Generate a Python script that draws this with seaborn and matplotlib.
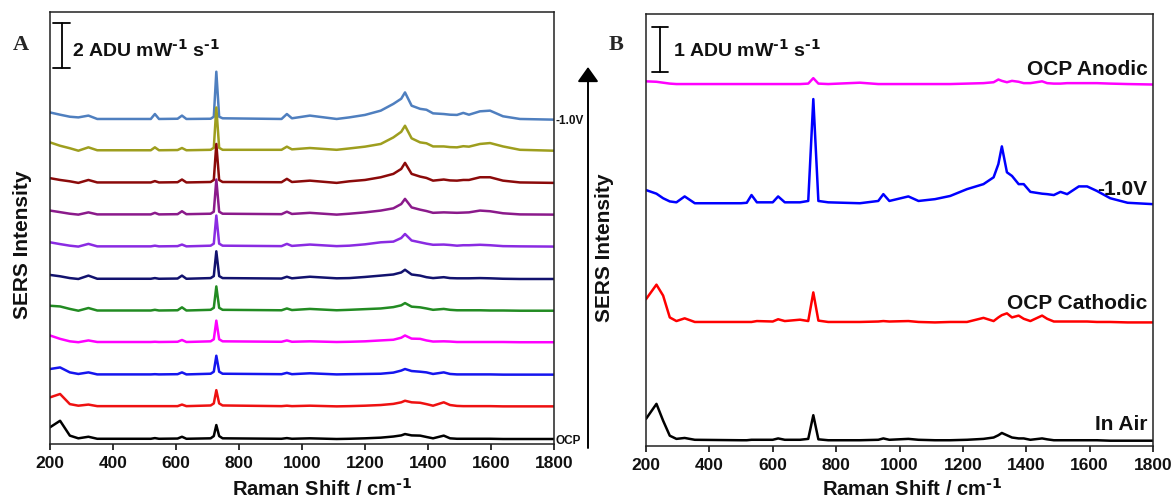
import numpy as np
import pandas as pd
import matplotlib
matplotlib.use("Agg")
import matplotlib.pyplot as plt
import seaborn as sns

# ---------------- data (Raman shift in cm^-1, intensity in ADU mW^-1 s^-1) ----------------
wavenumber_A = [200, 232, 263, 290, 322, 350, 520, 533, 546, 605, 619, 633, 710, 720, 728, 737, 748,
                935, 952, 968, 1025, 1110, 1150, 1200, 1250, 1290, 1315, 1327, 1348, 1375, 1395, 1416,
                1450, 1470, 1492, 1512, 1530, 1565, 1597, 1638, 1692, 1800]

potentials_A = ["-1.0V", "s2", "s3", "s4", "s5", "s6", "s7", "s8", "s9", "s10", "OCP"]

spec_A1 = [0.32,0.22,0.13,0.10,0.18,0.03, 0.03,0.25,0.03, 0.04,0.18,0.03, 0.04,0.13,2.13,0.13,0.06, 0.03,0.25,0.06, 0.18, 0.03,0.10,0.21,0.40, 0.70,0.93,1.21,0.62,0.48,0.44,0.28, 0.25,0.22,0.21,0.30,0.22, 0.37,0.40,0.15,0.03,0.00]
spec_A2 = [0.37,0.22,0.11,0.00,0.15,0.02, 0.02,0.15,0.02, 0.03,0.12,0.02, 0.04,0.13,1.92,0.13,0.04, 0.04,0.18,0.06, 0.12, 0.04,0.10,0.18,0.30, 0.59,0.84,1.11,0.55,0.37,0.33,0.19, 0.19,0.16,0.15,0.20,0.18, 0.30,0.34,0.19,0.04,0.00]
spec_A3 = [0.21,0.13,0.07,0.00,0.13,0.02, 0.02,0.08,0.02, 0.03,0.15,0.02, 0.04,0.13,1.73,0.13,0.04, 0.03,0.18,0.04, 0.10, 0.00,0.07,0.13,0.25, 0.40,0.62,0.89,0.40,0.28,0.22,0.10, 0.15,0.11,0.10,0.13,0.13, 0.25,0.25,0.10,0.02,0.00]
spec_A4 = [0.18,0.11,0.04,0.00,0.10,0.01, 0.01,0.08,0.01, 0.02,0.15,0.02, 0.04,0.13,1.56,0.13,0.04, 0.02,0.13,0.03, 0.08, 0.00,0.04,0.10,0.18, 0.28,0.47,0.70,0.32,0.22,0.16,0.08, 0.10,0.09,0.08,0.09,0.10, 0.18,0.15,0.06,0.01,0.00]
spec_A5 = [0.19,0.11,0.04,0.00,0.12,0.01, 0.01,0.04,0.01, 0.02,0.09,0.01, 0.04,0.13,1.38,0.13,0.04, 0.02,0.12,0.03, 0.09, 0.02,0.04,0.10,0.19, 0.22,0.38,0.56,0.27,0.19,0.13,0.08, 0.09,0.07,0.04,0.06,0.06, 0.08,0.06,0.02,0.01,0.00]
spec_A6 = [0.18,0.12,0.04,0.00,0.15,0.01, 0.01,0.04,0.01, 0.02,0.15,0.01, 0.04,0.13,1.23,0.13,0.04, 0.02,0.10,0.03, 0.10, 0.03,0.04,0.09,0.15, 0.20,0.29,0.41,0.20,0.15,0.08,0.04, 0.08,0.04,0.03,0.03,0.03, 0.04,0.03,0.01,0.00,0.00]
spec_A7 = [0.22,0.19,0.08,0.00,0.12,0.01, 0.01,0.04,0.01, 0.02,0.15,0.01, 0.04,0.13,1.08,0.13,0.04, 0.02,0.10,0.03, 0.08, 0.02,0.04,0.07,0.10, 0.16,0.24,0.34,0.18,0.15,0.10,0.04, 0.08,0.04,0.02,0.02,0.02, 0.02,0.01,0.01,0.00,0.00]
spec_A8 = [0.30,0.15,0.04,0.00,0.08,0.01, 0.01,0.02,0.01, 0.02,0.10,0.01, 0.04,0.13,0.96,0.13,0.04, 0.02,0.08,0.02, 0.04, 0.01,0.02,0.04,0.08, 0.11,0.20,0.30,0.16,0.15,0.08,0.03, 0.04,0.03,0.01,0.01,0.01, 0.01,0.01,0.01,0.00,0.00]
spec_A9 = [0.25,0.32,0.10,0.03,0.10,0.01, 0.01,0.02,0.01, 0.02,0.10,0.01, 0.04,0.13,0.84,0.13,0.04, 0.02,0.08,0.02, 0.06, 0.01,0.02,0.03,0.04, 0.09,0.18,0.25,0.16,0.13,0.10,0.03, 0.10,0.03,0.01,0.01,0.01, 0.01,0.01,0.00,0.00,0.00]
spec_A10 = [0.40,0.55,0.10,0.03,0.08,0.01, 0.01,0.01,0.01, 0.01,0.08,0.01, 0.04,0.13,0.72,0.13,0.04, 0.01,0.03,0.01, 0.03, 0.00,0.01,0.03,0.06, 0.11,0.18,0.25,0.18,0.16,0.10,0.03, 0.18,0.06,0.02,0.01,0.01, 0.01,0.01,0.00,0.00,0.00]
spec_A11 = [0.52,0.81,0.15,0.03,0.10,0.01, 0.01,0.04,0.01, 0.02,0.10,0.01, 0.03,0.13,0.62,0.13,0.03, 0.01,0.04,0.01, 0.03, 0.00,0.01,0.03,0.06, 0.11,0.16,0.22,0.16,0.15,0.09,0.03, 0.15,0.03,0.01,0.01,0.01, 0.01,0.01,0.00,0.00,0.00]
offsets_A = [14.39, 13.01, 11.58, 10.17, 8.75, 7.31, 5.90, 4.50, 3.06, 1.65, 0.20]

wavenumber_B = [200, 233, 254, 275, 296, 322, 354, 500, 518, 533, 550, 600, 617, 638, 686, 712, 728, 744, 775,
                875, 933, 949, 968, 1028, 1060, 1112, 1160, 1213, 1265, 1297, 1312, 1323, 1339, 1355, 1376,
                1392, 1413, 1450, 1466, 1487, 1508, 1529, 1566, 1592, 1623, 1665, 1720, 1800]
labels_B = ["OCP Anodic", "-1.0V", "OCP Cathodic", "In Air"]
spec_B_anodic = [0.07,0.06,0.04,0.02,0.01,0.01,0.01, 0.01,0.01,0.01,0.01, 0.01,0.01,0.01, 0.01,0.02,0.14,0.02,0.01, 0.04, 0.01,0.01,0.01, 0.01,0.01,0.01,0.01,0.02,0.03, 0.05,0.11,0.08,0.05,0.08,0.06,0.03,0.03, 0.07,0.03,0.02,0.02,0.03, 0.03,0.03,0.03,0.02,0.01,0.00]
spec_B_m10 = [0.31,0.23,0.13,0.06,0.04,0.17,0.02, 0.02,0.03,0.20,0.04, 0.04,0.17,0.04, 0.04,0.07,2.31,0.07,0.04, 0.02, 0.07,0.22,0.07, 0.17,0.07,0.11,0.18,0.33,0.44, 0.59,0.88,1.27,0.70,0.62,0.44,0.44,0.27, 0.23,0.22,0.20,0.27,0.22, 0.39,0.39,0.29,0.13,0.03,0.00]
spec_B_cathodic = [0.51,0.83,0.59,0.11,0.03,0.09,0.01, 0.01,0.01,0.01,0.03, 0.02,0.07,0.03, 0.06,0.03,0.66,0.04,0.01, 0.01, 0.02,0.03,0.02, 0.03,0.01,0.00,0.01,0.01,0.10, 0.03,0.11,0.16,0.20,0.11,0.15,0.08,0.03, 0.15,0.08,0.02,0.02,0.02, 0.02,0.02,0.01,0.01,0.00,0.00]
spec_B_air = [0.48,0.81,0.44,0.11,0.04,0.06,0.02, 0.01,0.01,0.02,0.02, 0.02,0.05,0.02, 0.02,0.04,0.56,0.03,0.01, 0.01, 0.02,0.05,0.02, 0.04,0.02,0.01,0.01,0.02,0.04, 0.07,0.12,0.17,0.12,0.07,0.05,0.05,0.02, 0.05,0.03,0.01,0.01,0.01, 0.01,0.01,0.01,0.00,0.00,0.00]
offsets_B = [7.94, 5.31, 2.71, 0.11]

scalebar_A = 2.0   # ADU mW^-1 s^-1
scalebar_B = 1.0
xticks = [200, 400, 600, 800, 1000, 1200, 1400, 1600, 1800]

# ---------------- style ----------------
sns.set_theme(style="white")
plt.rcParams["font.family"] = ["Liberation Sans", "DejaVu Sans"]
plt.rcParams["font.weight"] = "bold"
plt.rcParams["mathtext.default"] = "regular"

colors_A = ["#4f7fbf", "#9e9e1e", "#8b0a0a", "#8b1a8b", "#8a2be2", "#12126e",
            "#228b22", "#ff00ff", "#1515ee", "#ee1111", "#000000"]
colors_B = ["#ff00ff", "#0000ff", "#ff0000", "#000000"]

SUP = r"$^{\text{-1}}$"

W, H = 1173, 502
fig = plt.figure(figsize=(W / 100, H / 100), dpi=100)
axA = fig.add_axes([50 / W, 1 - 444.5 / H, 504 / W, 431.2 / H])
axB = fig.add_axes([646 / W, 1 - 446.7 / H, 507 / W, 431.7 / H])

specs_A = [spec_A1, spec_A2, spec_A3, spec_A4, spec_A5, spec_A6, spec_A7, spec_A8, spec_A9, spec_A10, spec_A11]
for vals, off, c in zip(specs_A, offsets_A, colors_A):
    sns.lineplot(x=wavenumber_A, y=np.array(vals) + off, ax=axA, color=c, linewidth=1.8,
                 estimator=None, sort=False)

specs_B = [spec_B_anodic, spec_B_m10, spec_B_cathodic, spec_B_air]
for vals, off, c in zip(specs_B, offsets_B, colors_B):
    sns.lineplot(x=wavenumber_B, y=np.array(vals) + off, ax=axB, color=c, linewidth=1.8,
                 estimator=None, sort=False)

axA.set_ylim(0, 19.16)
axB.set_ylim(0, 9.49)

for ax in (axA, axB):
    ax.set_xlim(200, 1800)
    ax.set_xticks(xticks)
    ax.set_yticks([])
    ax.tick_params(axis="x", direction="out", length=4, width=1.2, pad=4,
                   labelsize=12.5, colors="#111111", bottom=True)
    for lab in ax.get_xticklabels():
        lab.set_fontweight("bold")
    for sp in ax.spines.values():
        sp.set_color("#222222")
        sp.set_linewidth(1.1)
    ax.set_xlabel("Raman Shift / cm" + SUP, fontsize=14.5, fontweight="bold", color="#111111")
    ax.set_ylabel("SERS Intensity", fontsize=15, fontweight="bold", color="#111111")

axA.xaxis.set_label_coords(0.54, -0.078)
axB.xaxis.set_label_coords(0.525, -0.0725)
axA.yaxis.set_label_coords(-0.036, 0.463)
axB.yaxis.set_label_coords(-0.063, 0.46)

# scale bars
def scale_bar(ax, x, y0, h, dx):
    ax.plot([x, x], [y0, y0 + h], color="black", lw=1.3, clip_on=False)
    ax.plot([x - dx, x + dx], [y0, y0], color="black", lw=1.3, clip_on=False)
    ax.plot([x - dx, x + dx], [y0 + h, y0 + h], color="black", lw=1.3, clip_on=False)

scale_bar(axA, 237, 16.68, scalebar_A, 27)
axA.text(269, 17.53, "%d ADU mW%s s%s" % (scalebar_A, SUP, SUP), fontsize=14, fontweight="bold",
         va="center", ha="left", color="#111111")
scale_bar(axB, 244, 8.21, scalebar_B, 25)
axB.text(285, 8.72, "%d ADU mW%s s%s" % (scalebar_B, SUP, SUP), fontsize=14, fontweight="bold",
         va="center", ha="left", color="#111111")

# side labels panel A
axA.text(1806, 14.24, potentials_A[0], fontsize=8.5, fontweight="bold", va="baseline", ha="left",
         clip_on=False, color="#111111")
axA.text(1806, 0.0, potentials_A[-1], fontsize=8.5, fontweight="bold", va="baseline", ha="left",
         clip_on=False, color="#111111")

# labels panel B
for lab, yb in zip(labels_B, [8.17, 5.53, 3.03, 0.37]):
    axB.text(1782, yb, lab, fontsize=15, fontweight="bold", va="baseline", ha="right", color="#111111")

# panel letters
fig.text(13 / W, 1 - 50 / H, "A", fontsize=16, fontweight="bold", family="Liberation Serif",
         va="baseline", ha="left")
fig.text(609 / W, 1 - 50 / H, "B", fontsize=16, fontweight="bold", family="Liberation Serif",
         va="baseline", ha="left")

# arrow between panels
axA.annotate("", xy=(588 / W, 1 - 68 / H), xytext=(588 / W, 1 - 449 / H),
             xycoords="figure fraction", textcoords="figure fraction",
             arrowprops=dict(arrowstyle="-|>,head_length=0.45,head_width=0.32", lw=1.4,
                             color="black", mutation_scale=20, shrinkA=0, shrinkB=0),
             annotation_clip=False)

fig.savefig("out.png", dpi=100)
